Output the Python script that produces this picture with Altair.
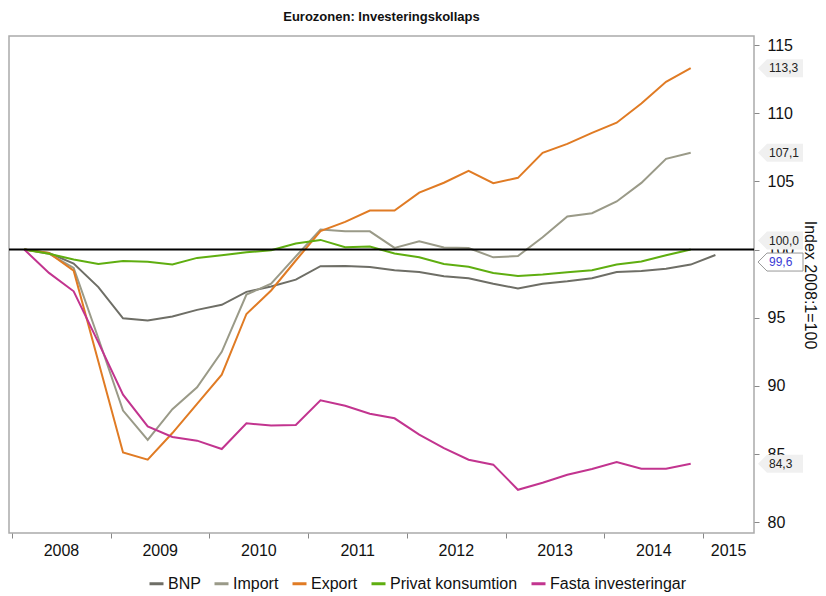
import altair as alt
import pandas as pd

# Quarters 2008:1 ... 2015:1
quarters = [f"{2008 + i // 4}:{i % 4 + 1}" for i in range(29)]

bnp = [100, 99.75, 98.97, 97.25, 94.96, 94.8, 95.1, 95.58, 95.95, 96.9, 97.3, 97.8,
       98.78, 98.8, 98.73, 98.48, 98.36, 98.04, 97.9, 97.5, 97.15, 97.5, 97.67, 97.9,
       98.36, 98.43, 98.6, 98.9, 99.6]
imp = [100, 99.7, 98.65, 93.5, 88.2, 86.05, 88.3, 89.9, 92.5, 96.7, 97.5, 99.5,
       101.47, 101.34, 101.34, 100.12, 100.6, 100.15, 100.12, 99.43, 99.53, 100.9, 102.43, 102.67,
       103.53, 104.89, 106.65, 107.1]
exp = [100, 99.75, 98.45, 91.8, 85.13, 84.6, 86.55, 88.68, 90.83, 95.28, 97.0, 99.2,
       101.35, 102.03, 102.86, 102.86, 104.18, 104.9, 105.77, 104.87, 105.26, 107.09, 107.75, 108.56,
       109.3, 110.71, 112.3, 113.3]
priv = [100, 99.7, 99.27, 98.95, 99.17, 99.1, 98.9, 99.39, 99.58, 99.8, 99.95, 100.45,
        100.71, 100.17, 100.22, 99.71, 99.44, 98.95, 98.74, 98.29, 98.06, 98.17, 98.34, 98.49,
        98.9, 99.13, 99.58, 100.0]
fasta = [100, 98.29, 96.94, 93.2, 89.36, 87.04, 86.26, 85.99, 85.38, 87.26, 87.11, 87.14,
         88.95, 88.55, 87.97, 87.63, 86.43, 85.45, 84.59, 84.23, 82.39, 82.9, 83.49, 83.91,
         84.42, 83.93, 83.93, 84.3]

names = ["BNP", "Import", "Export", "Privat konsumtion", "Fasta investeringar"]
colors = ["#6e6e66", "#9a9a88", "#e07b24", "#5fae10", "#c2348f"]
series = [bnp, imp, exp, priv, fasta]

year_ticks = [2008, 2009, 2010, 2011, 2012, 2013, 2014, 2015]
y_ticks = [80, 85, 90, 95, 100, 105, 110, 115]

label_vals = [113.3, 107.1, 84.3]
label_txt = ["113,3", "107,1", "84,3"]
label_priv_val = [100.0]
label_priv_txt = ["100,0"]
label_bnp_val = [99.6]
label_bnp_txt = ["99,6"]


def qpos(q):
    y, k = q.split(":")
    return int(y) + (int(k) - 0.5) / 4


rows = []
for name, vals in zip(names, series):
    for q, v in zip(quarters, vals):
        rows.append({"serie": name, "t": qpos(q), "v": v})
df = pd.DataFrame(rows)

FONT = "Liberation Sans"

xscale = alt.Scale(domain=[2007.97, 2015.516], nice=False, zero=False)
yscale = alt.Scale(domain=[79.22, 115.66], nice=False, zero=False)

lines = alt.Chart(df).mark_line(strokeWidth=2).encode(
    x=alt.X("t:Q", scale=xscale, title=None,
            axis=alt.Axis(values=year_ticks, format="d", domain=False, grid=False,
                          tickSize=5, tickColor="#888888", tickWidth=1,
                          labelFontSize=16, labelColor="#111111", labelPadding=4,
                          labelFlush=False, labelOverlap=False,
                          labelOffset={"condition": {"test": "datum.value == 2015", "value": 25},
                                       "value": 49})),
    y=alt.Y("v:Q", scale=yscale, title="Index 2008:1=100",
            axis=alt.Axis(orient="right", values=y_ticks, domain=False, grid=False,
                          tickSize=5, tickColor="#888888", tickWidth=1,
                          labelFontSize=16, labelColor="#111111", labelPadding=8,
                          titleFontSize=16, titleFontWeight="normal", titleColor="#111111",
                          titlePadding=8)),
    color=alt.Color("serie:N", scale=alt.Scale(domain=names, range=colors),
                    legend=alt.Legend(title=None, orient="none", direction="horizontal",
                                      legendX=139, legendY=539,
                                      symbolType="stroke", symbolSize=196, symbolStrokeWidth=3,
                                      labelFontSize=16, labelColor="#111111", labelOffset=3,
                                      columnPadding=7)),
)

rule = alt.Chart(pd.DataFrame({"y": [100]})).mark_rule(color="black", strokeWidth=2).encode(
    y=alt.Y("y:Q", scale=yscale))

BOX = "M -1 0 L -0.6 -0.4 L 1 -0.4 L 1 0.4 L -0.6 0.4 Z"

lab = pd.DataFrame({"v": label_vals, "txt": label_txt})
labp = pd.DataFrame({"v": label_priv_val, "txt": label_priv_txt})
labb = pd.DataFrame({"v": label_bnp_val, "txt": label_bnp_txt})


def boxes(d, yoff, fill, stroke=None):
    kw = dict(shape=BOX, size=2025, fill=fill, fillOpacity=1, opacity=1, yOffset=yoff)
    if stroke:
        kw.update(stroke=stroke, strokeWidth=1)
    else:
        kw.update(strokeWidth=0)
    return alt.Chart(d).mark_point(**kw).encode(x=alt.value(771.5), y=alt.Y("v:Q", scale=yscale))


def texts(d, yoff, color):
    return alt.Chart(d).mark_text(align="left", baseline="middle", fontSize=12, font=FONT,
                                  color=color, yOffset=yoff).encode(
        x=alt.value(760), y=alt.Y("v:Q", scale=yscale), text="txt:N")


chart = alt.layer(
    lines, rule,
    boxes(lab, 0, "#f0f0f0"), texts(lab, 0, "#222222"),
    boxes(labp, -9, "#f0f0f0"), texts(labp, -9, "#222222"),
    boxes(labb, 7, "#ffffff", "#999999"), texts(labb, 7, "#3b3bd6"),
).properties(
    width=745, height=497,
    title=alt.TitleParams("Eurozonen: Investeringskollaps", fontSize=13, fontWeight="bold",
                          font=FONT, anchor="middle", offset=12, color="#111111"),
    padding={"left": 1, "top": 28, "right": 64, "bottom": 62},
    autosize=alt.AutoSizeParams(type="none"),
).configure(font=FONT).configure_view(stroke="#aaaaaa", strokeWidth=1.5)

chart.save("out.html", embed_options={"renderer": "svg", "actions": False})
